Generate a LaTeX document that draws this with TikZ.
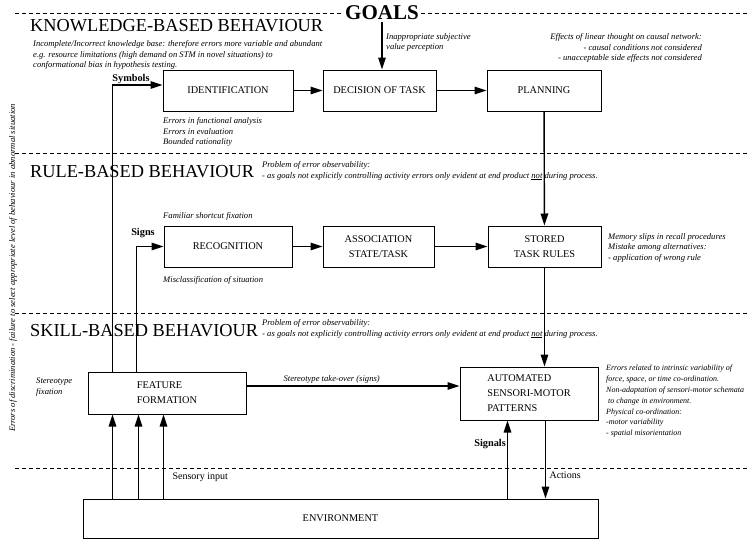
\documentclass[tikz,border=0pt]{standalone}
\usepackage{fontspec}
\setmainfont{Liberation Serif}
\usetikzlibrary{positioning, arrows.meta}

\begin{document}
\begin{tikzpicture}[x=1pt, y=-1pt, node distance=30pt, >={Triangle[length=12pt,width=7.5pt]},
    block/.style={draw, line width=1pt, minimum height=41pt, align=center, font=\fontsize{10.3}{15}\selectfont, inner sep=2pt},
    arrow/.style={->, line width=1.4pt},
    level/.style={font=\fontsize{18.3}{20}\selectfont, anchor=west, inner sep=0pt},
    note/.style={font=\fontsize{8.6}{10.8}\selectfont\itshape, align=left, anchor=north west, inner sep=0pt},
    lbl/.style={font=\fontsize{10.3}{12}\selectfont\bfseries, inner sep=1pt},
    sep/.style={dash pattern=on 4pt off 3pt, line width=0.7pt}]
    \useasboundingbox (0,0) rectangle (748,539);

    % levels
    \node[font=\fontsize{21}{22}\selectfont\bfseries, inner sep=2pt] (goals) at (382,13) {GOALS};
    \draw[sep] (15,13) -- (goals.west);
    \draw[sep] (goals.east) -- (748,13);
    \draw[sep] (15,153) -- (748,153);
    \draw[sep] (15,313) -- (748,313);
    \draw[sep] (15,468) -- (748,468);
    \node[level] (kb) at (30,26) {KNOWLEDGE-BASED BEHAVIOUR};
    \node[level] (rb) at (30,172) {RULE-BASED BEHAVIOUR};
    \node[level] (sb) at (30,331) {SKILL-BASED BEHAVIOUR};

    % boxes
    \node[block, minimum width=130pt] (ident) at (228,90.5) {IDENTIFICATION};
    \node[block, minimum width=113pt, right=29pt of ident] (decision) {DECISION OF TASK};
    \node[block, minimum width=114pt, right=50pt of decision] (planning) {PLANNING};
    \node[block, minimum width=128pt, below=114pt of ident] (recog) {RECOGNITION};
    \node[block, minimum width=111pt, right=30pt of recog] (assoc) {ASSOCIATION\\STATE/TASK};
    \node[block, minimum width=113pt, right=53pt of assoc] (stored) {STORED\\TASK RULES};
    \node[block, minimum width=158pt, minimum height=42pt, align=left] (feature) at (167,393) {FEATURE\\FORMATION};
    \node[block, minimum width=138pt, minimum height=53pt, align=left] (auto) at (529,393.5) {AUTOMATED\\SENSORI-MOTOR\\PATTERNS};
    \node[block, minimum width=515pt, minimum height=39pt] (env) at (340.5,518.5) {ENVIRONMENT};

    % notes
    \node[note] (kbnote) at (33,40) {Incomplete/Incorrect knowledge base: therefore errors more variable and abundant\\e.g. resource limitations (high demand on STM in novel situations) to\\conformational bias in hypothesis testing.};
    \node[note] (goalnote) at (386,33) {Inappropriate subjective\\value perception};
    \node[note, anchor=north east, align=right] (plannote) at (702,33) {Effects of linear thought on causal network:\\- causal conditions not considered\\- unacceptable side effects not considered};
    \node[note] (identnote) at (163,117) {Errors in functional analysis\\Errors in evaluation\\Bounded rationality};
    \node[note] (rbnote) at (262,161) {Problem of error observability:\\- as goals not explicitly controlling activity errors only evident at end product \underline{not} during process.};
    \node[note] (recognote1) at (163,212) {Familiar shortcut fixation};
    \node[note] (recognote2) at (163,276) {Misclassification of situation};
    \node[note] (storednote) at (608,233) {Memory slips in recall procedures\\Mistake among alternatives:\\- application of wrong rule};
    \node[note] (sbnote) at (262,319) {Problem of error observability:\\- as goals not explicitly controlling activity errors only evident at end product \underline{not} during process.};
    \node[note] (featnote) at (36,378) {Stereotype\\fixation};
    \node[note, font=\fontsize{8}{10.8}\selectfont\itshape] (autonote) at (606,365) {Errors related to intrinsic variability of\\force, space, or time co-ordination.\\Non-adaptation of sensori-motor schemata\\\ to change in environment.\\Physical co-ordination:\\-motor variability\\- spatial misorientation};
    \node[note, anchor=center, rotate=90] (discr) at (13,268) {Errors of discrimination - failure to select appropriate level of behaviour in abnormal situation};

    % connectors
    \coordinate (sym) at ([xshift=25pt]feature.north west);
    \coordinate (sgn) at ([xshift=49pt]feature.north west);
    \draw[arrow] (sym) |- ([yshift=5.5pt]ident.west);
    \draw[arrow] (sgn) |- (recog.west);
    \node[lbl] (symbols) at (131,79) {Symbols};
    \node[lbl] (signs) at (143,233) {Signs};
    \draw[arrow] (goals.south) -- (goals.south |- decision.north);
    \draw[arrow] (ident) -- (decision);
    \draw[arrow] (decision) -- (planning);
    \draw[arrow] (planning) -- (stored);
    \draw[arrow] (recog) -- (assoc);
    \draw[arrow] (assoc) -- (stored);
    \draw[arrow] (stored.south) -- (stored.south |- auto.north);
    \draw[arrow] ([yshift=7pt]feature.east) -- ([yshift=7pt]feature.east -| auto.west)
        node[note, anchor=south, pos=0.4, inner sep=2pt] {Stereotype take-over (signs)};
    \foreach \dx [count=\i] in {25,51,76} {
        \coordinate (in\i) at ([xshift=\dx pt]feature.south west);
        \draw[arrow] (in\i |- env.north) -- (in\i);
    }
    \node[anchor=west, font=\fontsize{10}{12}\selectfont] (sensory) at (169,477) {Sensory input};
    \coordinate (sig) at ([xshift=48pt]auto.south west);
    \coordinate (act) at ([xshift=86pt]auto.south west);
    \draw[arrow] (sig |- env.north) -- (sig) node[lbl, pos=0.7, left] {Signals};
    \draw[arrow] (act) -- (act |- env.north) node[pos=0.7, right, font=\fontsize{10}{12}\selectfont] {Actions};
\end{tikzpicture}
\end{document}
